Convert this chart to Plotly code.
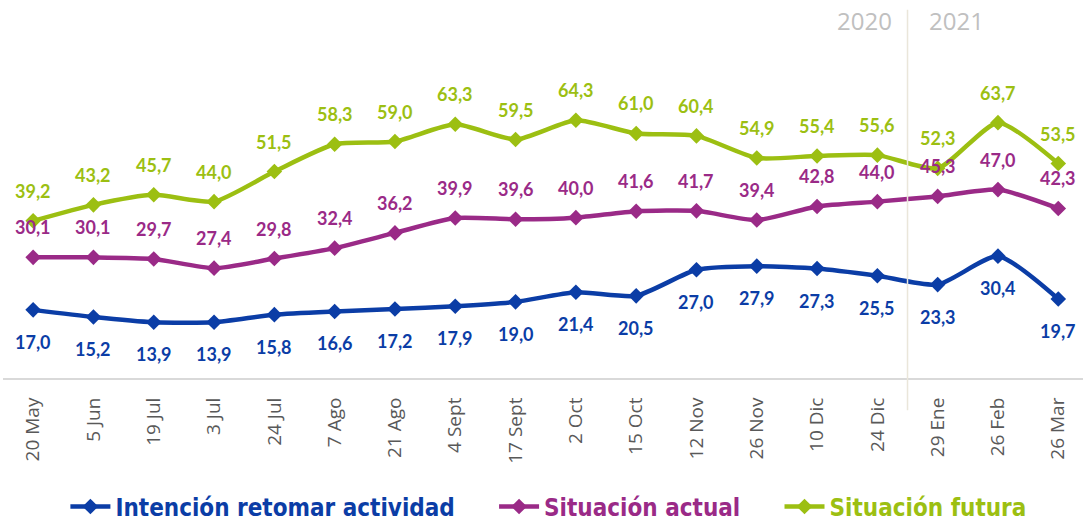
import plotly.graph_objects as go

# Survey dates (category axis)
fechas = ["20 May", "5 Jun", "19 Jul", "3 Jul", "24 Jul", "7 Ago", "21 Ago", "4 Sept",
          "17 Sept", "2 Oct", "15 Oct", "12 Nov", "26 Nov", "10 Dic", "24 Dic",
          "29 Ene", "26 Feb", "26 Mar"]

# Series values
intencion = [17.0, 15.2, 13.9, 13.9, 15.8, 16.6, 17.2, 17.9, 19.0, 21.4, 20.5,
             27.0, 27.9, 27.3, 25.5, 23.3, 30.4, 19.7]
actual = [30.1, 30.1, 29.7, 27.4, 29.8, 32.4, 36.2, 39.9, 39.6, 40.0, 41.6,
          41.7, 39.4, 42.8, 44.0, 45.3, 47.0, 42.3]
futura = [39.2, 43.2, 45.7, 44.0, 51.5, 58.3, 59.0, 63.3, 59.5, 64.3, 61.0,
          60.4, 54.9, 55.4, 55.6, 52.3, 63.7, 53.5]

series = [
    ("Intención retomar actividad", intencion, "#0B3DA6", -32, 5),
    ("Situación actual", actual, "#9A2A87", 30, 5),
    ("Situación futura", futura, "#9CBF12", 30, 0),
]

fig = go.Figure()
annotations = []
for nombre, valores, color, desplaz, relleno in series:
    fig.add_trace(go.Scatter(
        x=fechas, y=valores, mode="lines+markers",
        name=f"<span style='color:{color}'><b>{nombre}</b></span>" + "&nbsp;" * relleno,
        line=dict(color=color, width=4.5, shape="spline", smoothing=0.6),
        marker=dict(symbol="diamond", size=12, color=color),
        hoverinfo="skip",
    ))
    for f, v in zip(fechas, valores):
        annotations.append(dict(
            x=f, y=v, xref="x", yref="y", yshift=desplaz,
            text=f"{v:.1f}".replace(".", ","), showarrow=False,
            font=dict(family="Lato, Open Sans, sans-serif", size=18,
                      color=color, weight="bold"),
        ))

# Year divider and labels
fig.add_shape(type="line", xref="x", yref="paper", x0=14.5, x1=14.5,
              y0=-0.085, y1=0.974, line=dict(color="#EAE6DA", width=1.5))
for texto, xpos in [("2020", 13.78), ("2021", 15.31)]:
    annotations.append(dict(
        x=xpos, y=0.947, xref="x", yref="paper", yanchor="middle",
        text=texto, showarrow=False,
        font=dict(family="Open Sans, sans-serif", size=24, color="#C0C0C0"),
    ))

fig.update_layout(
    width=1083, height=521,
    margin=dict(l=3, r=0, t=0, b=143, autoexpand=False),
    paper_bgcolor="white", plot_bgcolor="white",
    showlegend=True,
    legend=dict(
        orientation="h", x=0.505, xanchor="center",
        yref="container", y=0.027, yanchor="middle",
        font=dict(family="Liberation Sans Narrow, DejaVu Sans Condensed, sans-serif",
                  size=24),
        itemwidth=40, tracegroupgap=0,
    ),
    annotations=annotations,
    xaxis=dict(
        type="category", range=[-0.5, 17.41], automargin=False,
        showgrid=False, zeroline=False,
        showline=True, linecolor="#D9D9D9", linewidth=2,
        tickangle=-90, ticks="", ticklabelstandoff=10,
        tickfont=dict(family="Open Sans, sans-serif", size=19, color="#595959"),
    ),
    yaxis=dict(range=[0, 94.3], visible=False, showgrid=False, zeroline=False),
)

fig.write_html("out.html")
